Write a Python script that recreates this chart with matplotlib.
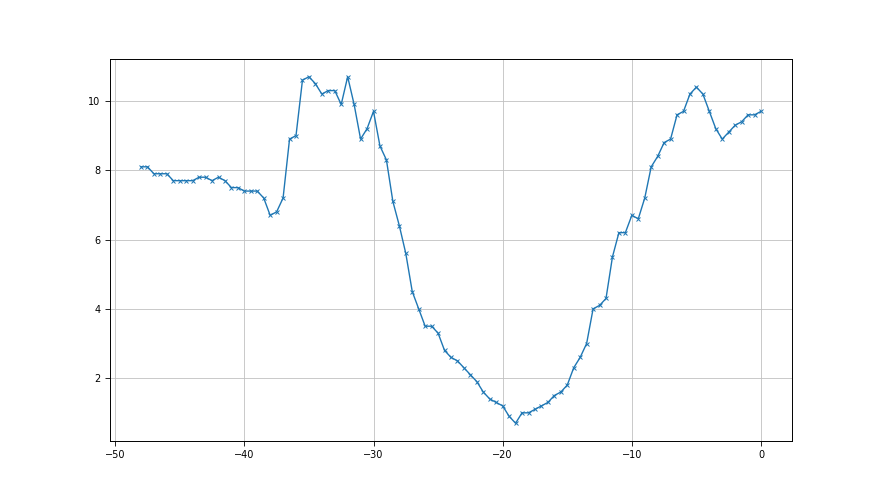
import matplotlib
matplotlib.use("Agg")
import matplotlib.pyplot as plt

x_values = [-48.0, -47.5, -47.0, -46.5, -46.0, -45.5, -45.0, -44.5, -44.0, -43.5,
            -43.0, -42.5, -42.0, -41.5, -41.0, -40.5, -40.0, -39.5, -39.0, -38.5,
            -38.0, -37.5, -37.0, -36.5, -36.0, -35.5, -35.0, -34.5, -34.0, -33.5,
            -33.0, -32.5, -32.0, -31.5, -31.0, -30.5, -30.0, -29.5, -29.0, -28.5,
            -28.0, -27.5, -27.0, -26.5, -26.0, -25.5, -25.0, -24.5, -24.0, -23.5,
            -23.0, -22.5, -22.0, -21.5, -21.0, -20.5, -20.0, -19.5, -19.0, -18.5,
            -18.0, -17.5, -17.0, -16.5, -16.0, -15.5, -15.0, -14.5, -14.0, -13.5,
            -13.0, -12.5, -12.0, -11.5, -11.0, -10.5, -10.0, -9.5, -9.0, -8.5,
            -8.0, -7.5, -7.0, -6.5, -6.0, -5.5, -5.0, -4.5, -4.0, -3.5,
            -3.0, -2.5, -2.0, -1.5, -1.0, -0.5, 0.0]

y_values = [8.1, 8.1, 7.9, 7.9, 7.9, 7.7, 7.7, 7.7, 7.7, 7.8,
            7.8, 7.7, 7.8, 7.7, 7.5, 7.5, 7.4, 7.4, 7.4, 7.2,
            6.7, 6.8, 7.2, 8.9, 9.0, 10.6, 10.7, 10.5, 10.2, 10.3,
            10.3, 9.9, 10.7, 9.9, 8.9, 9.2, 9.7, 8.7, 8.3, 7.1,
            6.4, 5.6, 4.5, 4.0, 3.5, 3.5, 3.3, 2.8, 2.6, 2.5,
            2.3, 2.1, 1.9, 1.6, 1.4, 1.3, 1.2, 0.9, 0.7, 1.0,
            1.0, 1.1, 1.2, 1.3, 1.5, 1.6, 1.8, 2.3, 2.6, 3.0,
            4.0, 4.1, 4.3, 5.5, 6.2, 6.2, 6.7, 6.6, 7.2, 8.1,
            8.4, 8.8, 8.9, 9.6, 9.7, 10.2, 10.4, 10.2, 9.7, 9.2,
            8.9, 9.1, 9.3, 9.4, 9.6, 9.6, 9.7]

fig, ax = plt.subplots(figsize=(8.8, 4.95), dpi=100)
ax.plot(x_values, y_values, color="#1f77b4", marker="x", markersize=3.5,
        linewidth=1.0, markeredgewidth=0.7)
ax.grid(True, color="#c0c0c0", linewidth=0.6)
for s in ax.spines.values():
    s.set_linewidth(0.7)
ax.tick_params(labelsize=7, width=0.6)
fig.savefig("out.png", dpi=100)
